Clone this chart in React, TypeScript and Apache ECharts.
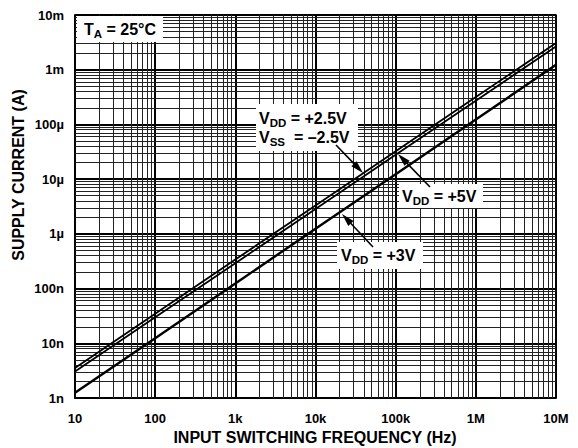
import React, { useEffect, useRef } from "react";
import * as echarts from "echarts";

const frequencies = [10, 100, 1e3, 1e4, 1e5, 1e6, 1e7];
const currentVdd25 = [3.55e-9, 3.47e-8, 3.39e-7, 3.31e-6, 3.24e-5, 3.16e-4, 3.09e-3];
const currentVdd5 = [3.05e-9, 2.98e-8, 2.91e-7, 2.85e-6, 2.78e-5, 2.72e-4, 2.66e-3];
const currentVdd3 = [1.25e-9, 1.24e-8, 1.24e-7, 1.24e-6, 1.23e-5, 1.23e-4, 1.23e-3];

const xTickLabels = ["10", "100", "1k", "10k", "100k", "1M", "10M"]; // exponents 1..7
const yTickLabels = ["1n", "10n", "100n", "1µ", "10µ", "100µ", "1m", "10m"]; // exponents -9..-2

const X_MIN = 10;
const X_MAX = 1e7;
const Y_MIN = 1e-9;
const Y_MAX = 1e-2;
const xDecades = [10, 100, 1e3, 1e4, 1e5, 1e6];
const yDecades = [1e-9, 1e-8, 1e-7, 1e-6, 1e-5, 1e-4, 1e-3];
const minorMultipliers = [2, 3, 4, 5, 6, 7, 8, 9];

const FONT = "'Liberation Sans', Arial, Helvetica, sans-serif";

function arrow(tail: number[], tip: number[]) {
  const dx = tip[0] - tail[0];
  const dy = tip[1] - tail[1];
  const len = Math.sqrt(dx * dx + dy * dy);
  const ux = dx / len;
  const uy = dy / len;
  const hl = 13;
  const hw = 3.6;
  const bx = tip[0] - ux * hl;
  const by = tip[1] - uy * hl;
  const nx = -uy;
  const ny = ux;
  return [
    {
      type: "line",
      z: 102,
      shape: { x1: tail[0], y1: tail[1], x2: bx + ux * 2, y2: by + uy * 2 },
      style: { stroke: "#000", lineWidth: 1.6 },
    },
    {
      type: "polygon",
      z: 102,
      shape: {
        points: [
          [tip[0], tip[1]],
          [bx + nx * hw, by + ny * hw],
          [bx - nx * hw, by - ny * hw],
        ],
      },
      style: { fill: "#000" },
    },
  ];
}

const richStyles = {
  v: { fontSize: 16, fontWeight: "bold", fontFamily: FONT, fill: "#000", lineHeight: 22 },
  s: { fontSize: 11.5, fontWeight: "bold", fontFamily: FONT, fill: "#000", lineHeight: 11, verticalAlign: "bottom" },
};

function label(x: number, y: number, text: string) {
  return {
    type: "text",
    z: 101,
    x,
    y,
    style: { text, rich: richStyles, align: "left", verticalAlign: "middle" },
  };
}

function box(x: number, y: number, w: number, h: number) {
  return { type: "rect", z: 100, shape: { x, y, width: w, height: h }, style: { fill: "#fff" } };
}

export default function App() {
  const ref = useRef<HTMLDivElement>(null);
  useEffect(() => {
    if (!ref.current) return;
    const chart = echarts.init(ref.current, null, { renderer: "svg" });
    const minorX: any[] = [];
    xDecades.forEach((d) =>
      minorMultipliers.forEach((m) => minorX.push([{ coord: [d * m, Y_MIN] }, { coord: [d * m, Y_MAX] }]))
    );
    const minorY: any[] = [];
    yDecades.forEach((d) =>
      minorMultipliers.forEach((m) => minorY.push([{ coord: [X_MIN, d * m] }, { coord: [X_MAX, d * m] }]))
    );

    const lineSeries = (name: string, vals: number[], width: number) => ({
      name,
      type: "line",
      z: 5,
      symbol: "none",
      silent: true,
      lineStyle: { color: "#000", width },
      data: frequencies.map((f, i) => [f, vals[i]]),
    });

    const minorSeries = (name: string, lines: any[]) => ({
      name,
      type: "line",
      z: 1,
      symbol: "none",
      silent: true,
      data: [],
      markLine: {
        silent: true,
        z: 1,
        symbol: ["none", "none"],
        label: { show: false },
        lineStyle: { color: "#222", width: 1, type: "solid" },
        emphasis: { disabled: true },
        data: lines,
      },
    });

    chart.setOption({
      animation: false,
      backgroundColor: "#fff",
      grid: { left: 75, right: 22, top: 15, bottom: 50, show: true, borderColor: "#000", borderWidth: 1.5, backgroundColor: "#fff" },
      xAxis: {
        type: "log",
        logBase: 10,
        min: X_MIN,
        max: X_MAX,
        splitNumber: 6,
        axisLine: { show: true, lineStyle: { color: "#000", width: 1.5 } },
        axisTick: { show: false },
        axisLabel: {
          color: "#000",
          fontSize: 13,
          fontWeight: "bold",
          fontFamily: FONT,
          margin: 14,
          showMinLabel: true,
          showMaxLabel: true,
          formatter: (v: number) => xTickLabels[Math.round(Math.log10(v)) - 1] ?? "",
        },
        splitLine: { show: true, lineStyle: { color: "#000", width: 2 } },
      },
      yAxis: {
        type: "log",
        logBase: 10,
        min: Y_MIN,
        max: Y_MAX,
        splitNumber: 7,
        axisLine: { show: true, lineStyle: { color: "#000", width: 1.5 } },
        axisTick: { show: false },
        axisLabel: {
          color: "#000",
          fontSize: 13,
          fontWeight: "bold",
          fontFamily: FONT,
          margin: 11,
          showMinLabel: true,
          showMaxLabel: true,
          formatter: (v: number) => yTickLabels[Math.round(Math.log10(v)) + 9] ?? "",
        },
        splitLine: { show: true, lineStyle: { color: "#000", width: 2 } },
      },
      series: [
        minorSeries("grid-minor-x", minorX),
        minorSeries("grid-minor-y", minorY),
        lineSeries("VDD=+2.5V/VSS=-2.5V", currentVdd25, 1.8),
        lineSeries("VDD=+5V", currentVdd5, 1.8),
        lineSeries("VDD=+3V", currentVdd3, 2.4),
      ],
      graphic: {
        elements: [
          box(77, 16, 86, 26),
          label(84, 29, "{v|T}{s|A}{v| = 25°C}"),
          box(256, 104, 102, 47),
          label(259, 118, "{v|V}{s|DD}{v| = +2.5V}"),
          label(259, 137, "{v|V}{s|SS}{v|  = –2.5V}"),
          box(399, 184, 84, 24),
          label(402, 196, "{v|V}{s|DD}{v| = +5V}"),
          box(337, 242, 86, 27),
          label(341, 255, "{v|V}{s|DD}{v| = +3V}"),
          ...arrow([336, 145], [363, 173]),
          ...arrow([430, 187], [398, 154]),
          ...arrow([373, 247], [342, 214]),
          {
            type: "text",
            z: 101,
            x: 18,
            y: 175,
            rotation: Math.PI / 2,
            style: {
              text: "SUPPLY CURRENT (A)",
              fontSize: 16,
              fontWeight: "bold",
              fontFamily: FONT,
              fill: "#000",
              align: "center",
              verticalAlign: "middle",
            },
          },
          {
            type: "text",
            z: 101,
            x: 315,
            y: 437,
            style: {
              text: "INPUT SWITCHING FREQUENCY (Hz)",
              fontSize: 16,
              fontWeight: "bold",
              fontFamily: FONT,
              fill: "#000",
              align: "center",
              verticalAlign: "middle",
            },
          },
        ],
      },
    });
    return () => chart.dispose();
  }, []);
  return (
    <div
      ref={ref}
      style={{ position: "fixed", left: 0, top: 0, width: 578, height: 448, background: "#fff" }}
    />
  );
}
